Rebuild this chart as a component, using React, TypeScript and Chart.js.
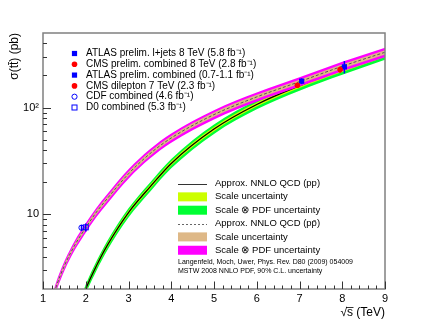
import React, { useEffect, useRef } from 'react';
import { Chart, registerables } from 'chart.js';

Chart.register(...registerables);

// ---- theory curve: approx. NNLO QCD, pp ----
const ppEnergy = [1.9, 2.0, 2.25, 2.5, 3.0, 3.5, 4.0, 5.0, 6.0, 7.0, 8.0, 9.0];
const ppCentral = [1.55, 2.0, 3.3, 5.1, 10.4, 18, 30, 63, 107, 160, 226, 312];
const ppScaleHigh = [1.62, 2.09, 3.45, 5.33, 10.87, 18.8, 31.4, 65.8, 111.8, 167.2, 236.2, 326];
const ppScaleLow = [1.48, 1.91, 3.15, 4.87, 9.93, 17.2, 28.7, 60.2, 102.2, 152.8, 215.8, 298];
const ppPdfHigh = [1.71, 2.2, 3.63, 5.61, 11.4, 19.8, 33, 69.3, 117.7, 176, 248.6, 343];
const ppPdfLow = [1.4, 1.8, 2.97, 4.59, 9.36, 16.2, 27, 56.7, 96.3, 144, 203.4, 281];

// ---- theory curve: approx. NNLO QCD, p-pbar ----
const ppbarEnergy = [1.2, 1.3, 1.5, 1.75, 1.96, 2.25, 2.5, 3.0, 3.5, 4.0, 5.0, 6.0, 7.0, 8.0, 9.0];
const ppbarCentral = [1.5, 2.05, 3.3, 5.2, 7.1, 10.5, 14, 24, 37, 52, 86, 126, 175, 244, 330];
const ppbarScaleHigh = [1.57, 2.14, 3.45, 5.43, 7.42, 10.97, 14.63, 25.1, 38.7, 54.3, 89.9, 131.7, 182.9, 255, 344.9];
const ppbarScaleLow = [1.43, 1.96, 3.15, 4.97, 6.78, 10.03, 13.37, 22.9, 35.3, 49.7, 82.1, 120.3, 167.1, 233, 315.2];
const ppbarPdfHigh = [1.65, 2.26, 3.63, 5.72, 7.81, 11.55, 15.4, 26.4, 40.7, 57.2, 94.6, 138.6, 192.5, 268.4, 363];
const ppbarPdfLow = [1.35, 1.85, 2.97, 4.68, 6.39, 9.45, 12.6, 21.6, 33.3, 46.8, 77.4, 113.4, 157.5, 219.6, 297];

// ---- measurements ----
const measLabels = [
  'ATLAS prelim. l+jets 8 TeV (5.8 fb⁻¹)',
  'CMS prelim. combined 8 TeV (2.8 fb⁻¹)',
  'ATLAS prelim. combined (0.7-1.1 fb⁻¹)',
  'CMS dilepton 7 TeV (2.3 fb⁻¹)',
  'CDF combined (4.6 fb⁻¹)',
  'D0 combined (5.3 fb⁻¹)',
];
const measEnergy = [8.05, 7.95, 7.05, 6.95, 1.9, 2.0];
const measXsec = [241, 227, 177, 162, 7.5, 7.56];
const measErr = [32, 15, 11, 7, 0.48, 0.66];
const measColors = ['#0000ff', '#ff0000', '#0000ff', '#ff0000', '#0000ff', '#0000ff'];
const measShapes = ['rect', 'circle', 'rect', 'circle', 'circle', 'rect'];
const measFilled = [true, true, true, true, false, false];

// ---- theory legend ----
const theoryLabels = [
  'Approx. NNLO QCD (pp)',
  'Scale uncertainty',
  'Scale ⊗ PDF uncertainty',
  'Approx. NNLO QCD (pp\u0304)',
  'Scale uncertainty',
  'Scale ⊗ PDF uncertainty',
];
const citationLines = [
  'Langenfeld, Moch, Uwer, Phys. Rev. D80 (2009) 054009',
  'MSTW 2008 NNLO PDF, 90% C.L. uncertainty',
];

// ---- axes ----
const xTickValues = [1, 2, 3, 4, 5, 6, 7, 8, 9];
const xTickLabels = ['1', '2', '3', '4', '5', '6', '7', '8', '9'];
const yMajorValues = [10, 100];
const yTickLabels = ['10', '10²'];
const yMinorValues = [3, 4, 5, 6, 7, 8, 9, 20, 30, 40, 50, 60, 70, 80, 90, 200, 300, 400];

const YELLOW = '#ccff00';
const GREEN = '#00ff33';
const TAN = '#deb887';
const MAGENTA = '#ff00ff';
const FONT = "'Liberation Sans', Arial, Helvetica, sans-serif";

const toXY = (xs: number[], ys: number[]) => xs.map((x, i) => ({ x, y: ys[i] }));

const band = (xs: number[], ys: number[], color: string | false, order: number) => ({
  type: 'line' as const,
  data: toXY(xs, ys),
  borderWidth: 0,
  borderColor: 'rgba(0,0,0,0)',
  pointRadius: 0,
  cubicInterpolationMode: 'monotone' as const,
  fill: color ? '-1' : false,
  backgroundColor: color || 'rgba(0,0,0,0)',
  order,
});

function drawMarker(ctx: CanvasRenderingContext2D, i: number, x: number, y: number) {
  ctx.save();
  ctx.fillStyle = measColors[i];
  ctx.strokeStyle = measColors[i];
  ctx.lineWidth = 1;
  if (measShapes[i] === 'rect') {
    if (measFilled[i]) ctx.fillRect(x - 2.6, y - 2.6, 5.2, 5.2);
    else ctx.strokeRect(x - 2.5, y - 2.5, 5, 5);
  } else {
    ctx.beginPath();
    ctx.arc(x, y, measFilled[i] ? 2.8 : 2.6, 0, Math.PI * 2);
    if (measFilled[i]) ctx.fill();
    else ctx.stroke();
  }
  ctx.restore();
}

const rootStyle = {
  id: 'rootStyle',
  afterDatasetsDraw(chart: any) {
    const ctx: CanvasRenderingContext2D = chart.ctx;
    const xs = chart.scales.x;
    const ys = chart.scales.y;
    measEnergy.forEach((e, i) => {
      const px = xs.getPixelForValue(e);
      const y1 = ys.getPixelForValue(measXsec[i] + measErr[i]);
      const y2 = ys.getPixelForValue(measXsec[i] - measErr[i]);
      ctx.save();
      ctx.strokeStyle = measColors[i];
      ctx.lineWidth = 1.5;
      ctx.beginPath();
      ctx.moveTo(px, y1);
      ctx.lineTo(px, y2);
      ctx.stroke();
      ctx.restore();
      drawMarker(ctx, i, px, ys.getPixelForValue(measXsec[i]));
    });
  },
  afterDraw(chart: any) {
    const ctx: CanvasRenderingContext2D = chart.ctx;
    const a = chart.chartArea;
    const xs = chart.scales.x;
    const ys = chart.scales.y;
    ctx.save();
    ctx.strokeStyle = '#808080';
    ctx.lineWidth = 1.5;
    ctx.strokeRect(a.left, a.top, a.right - a.left, a.bottom - a.top);
    ctx.strokeStyle = '#333';
    ctx.lineWidth = 1;
    ctx.beginPath();
    for (let v = 1; v <= 9.001; v += 0.2) {
      const px = Math.round(xs.getPixelForValue(v)) + 0.5;
      const major = Math.abs(v - Math.round(v)) < 0.01;
      ctx.moveTo(px, a.bottom);
      ctx.lineTo(px, a.bottom - (major ? 7.5 : 3.5));
    }
    yMajorValues.forEach((v) => {
      const py = Math.round(ys.getPixelForValue(v)) + 0.5;
      ctx.moveTo(a.left, py);
      ctx.lineTo(a.left + 8, py);
    });
    yMinorValues.forEach((v) => {
      const py = Math.round(ys.getPixelForValue(v)) + 0.5;
      ctx.moveTo(a.left, py);
      ctx.lineTo(a.left + 4, py);
    });
    ctx.stroke();

    ctx.fillStyle = '#000';
    ctx.font = `11px ${FONT}`;
    ctx.textAlign = 'center';
    ctx.textBaseline = 'top';
    xTickValues.forEach((v, i) => {
      ctx.fillText(xTickLabels[i], xs.getPixelForValue(v), a.bottom + 4);
    });
    ctx.textAlign = 'right';
    ctx.textBaseline = 'middle';
    yMajorValues.forEach((v, i) => {
      ctx.fillText(yTickLabels[i], a.left - 4, ys.getPixelForValue(v));
    });

    ctx.font = `12px ${FONT}`;
    ctx.textBaseline = 'middle';
    const tev = ' (TeV)';
    const wTev = ctx.measureText(tev).width;
    const wS = ctx.measureText('s').width;
    const wRoot = ctx.measureText('√').width;
    const xEnd = a.right;
    const yT = a.bottom + 24;
    ctx.textAlign = 'left';
    const x0 = xEnd - wTev - wS - wRoot;
    ctx.fillText('√', x0, yT);
    ctx.fillText('s', x0 + wRoot, yT);
    ctx.fillText(tev, x0 + wRoot + wS, yT);
    ctx.strokeStyle = '#000';
    ctx.lineWidth = 0.8;
    ctx.beginPath();
    ctx.moveTo(x0 + wRoot - 1, yT - 5.5);
    ctx.lineTo(x0 + wRoot + wS + 0.5, yT - 5.5);
    ctx.stroke();

    ctx.save();
    ctx.translate(15, a.top);
    ctx.rotate(-Math.PI / 2);
    ctx.textAlign = 'right';
    ctx.fillText('σ(tt\u0304) (pb)', 0, 0);
    ctx.restore();

    ctx.font = `10px ${FONT}`;
    ctx.textAlign = 'left';
    ctx.textBaseline = 'middle';
    measLabels.forEach((lab, i) => {
      const y = a.top + 20.5 + i * 10.8;
      drawMarker(ctx, i, a.left + 31.5, y);
      ctx.fillStyle = '#000';
      ctx.fillText(lab, a.left + 43, y);
    });

    const lx0 = a.left + 135;
    const lx1 = a.left + 164;
    const tx = a.left + 172;
    const swatches = [null, YELLOW, GREEN, null, TAN, MAGENTA];
    ctx.font = `9.5px ${FONT}`;
    theoryLabels.forEach((lab, i) => {
      const y = a.top + 150.5 + i * 13.35;
      const sw = swatches[i];
      if (sw) {
        ctx.fillStyle = sw;
        ctx.fillRect(lx0, y - 4.5, lx1 - lx0, 9);
      } else {
        ctx.save();
        ctx.strokeStyle = i === 0 ? '#333' : '#666';
        ctx.lineWidth = 1;
        if (i === 3) ctx.setLineDash([2, 2]);
        ctx.beginPath();
        ctx.moveTo(lx0, Math.round(y) + 0.5);
        ctx.lineTo(lx1, Math.round(y) + 0.5);
        ctx.stroke();
        ctx.restore();
      }
      ctx.fillStyle = '#000';
      ctx.fillText(lab, tx, y);
    });
    ctx.font = `7px ${FONT}`;
    citationLines.forEach((t, i) => {
      ctx.fillText(t, lx0, a.top + 229.5 + i * 8.3);
    });
    ctx.restore();
  },
};

export default function App() {
  const ref = useRef<HTMLCanvasElement>(null);
  useEffect(() => {
    const canvas = ref.current;
    if (!canvas) return;
    const chart = new Chart(canvas, {
      type: 'line',
      data: {
        datasets: [
          band(ppEnergy, ppPdfHigh, false, 9),
          band(ppEnergy, ppPdfLow, GREEN, 9),
          band(ppEnergy, ppScaleHigh, false, 8),
          band(ppEnergy, ppScaleLow, YELLOW, 8),
          {
            type: 'line',
            data: toXY(ppEnergy, ppCentral),
            borderColor: '#000',
            borderWidth: 1.3,
            pointRadius: 0,
            fill: false,
            cubicInterpolationMode: 'monotone',
            order: 7,
          },
          band(ppbarEnergy, ppbarPdfHigh, false, 6),
          band(ppbarEnergy, ppbarPdfLow, MAGENTA, 6),
          band(ppbarEnergy, ppbarScaleHigh, false, 5),
          band(ppbarEnergy, ppbarScaleLow, TAN, 5),
          {
            type: 'line',
            data: toXY(ppbarEnergy, ppbarCentral),
            borderColor: '#555',
            borderWidth: 1,
            borderDash: [3, 2],
            pointRadius: 0,
            fill: false,
            cubicInterpolationMode: 'monotone',
            order: 4,
          },
        ] as any,
      },
      options: {
        animation: false,
        responsive: false,
        devicePixelRatio: 1,
        layout: { padding: { left: 43, top: 33, right: 44, bottom: 33 } },
        plugins: { legend: { display: false }, tooltip: { enabled: false }, title: { display: false } },
        scales: {
          x: { type: 'linear', min: 1, max: 9, display: false },
          y: { type: 'logarithmic', min: 2, max: 500, display: false },
        },
      },
      plugins: [rootStyle],
    });
    return () => chart.destroy();
  }, []);
  return (
    <div style={{ position: 'absolute', left: 0, top: 0, width: 429, height: 322, background: '#fff' }}>
      <canvas ref={ref} width={429} height={322} style={{ display: 'block', width: 429, height: 322 }} />
    </div>
  );
}
